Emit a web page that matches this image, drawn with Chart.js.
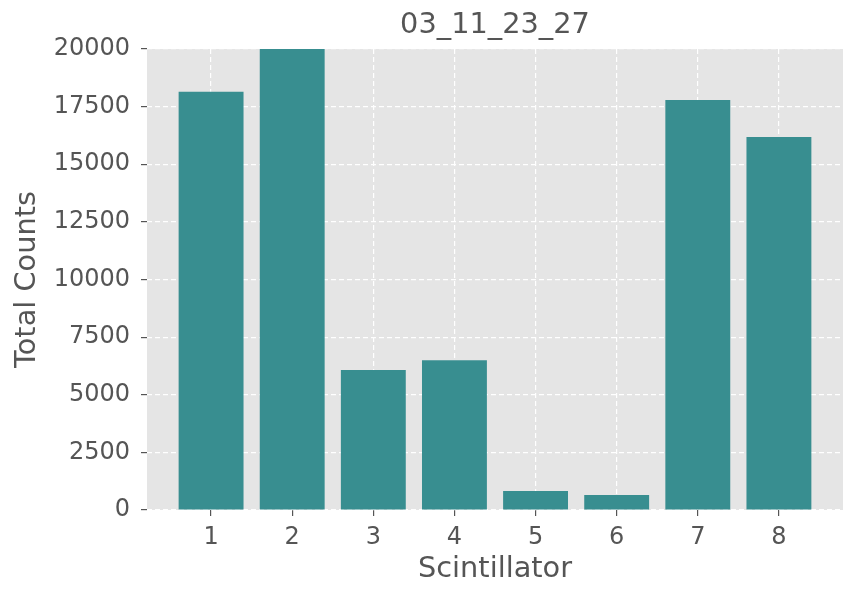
<!DOCTYPE html>
<html lang="en">
  <head>
    <meta charset="UTF-8" />
    <title>03_11_23_27</title>
    <script src="https://cdn.jsdelivr.net/npm/chart.js"></script>
    <style>
      html, body { margin: 0; padding: 0; background: #ffffff; }
      #wrap { width: 858px; height: 601px; }
    </style>
  </head>
  <body>
    <div id="wrap"><canvas id="grafico"></canvas></div>

    <script>
      // dados
      const chartTitle = "03_11_23_27";
      const scintillators = [1, 2, 3, 4, 5, 6, 7, 8];
      const totalCounts = [18150, 20000, 6070, 6500, 820, 650, 17790, 16180];
      const yTicks = [0, 2500, 5000, 7500, 10000, 12500, 15000, 17500, 20000];

      const textColor = "#555555";
      const fontFamily = "'DejaVu Sans', sans-serif";

      // fundo cinza da área do gráfico + título centrado na área
      const ggplotBackground = {
        id: "ggplotBackground",
        beforeDraw(chart) {
          const { ctx, chartArea } = chart;
          ctx.save();
          ctx.fillStyle = "#E5E5E5";
          ctx.fillRect(chartArea.left, chartArea.top, chartArea.right - chartArea.left, chartArea.bottom - chartArea.top);
          ctx.restore();
        },
        afterDraw(chart) {
          const { ctx, chartArea } = chart;
          ctx.save();
          ctx.fillStyle = textColor;
          ctx.font = "28.8px " + fontFamily;
          ctx.textAlign = "center";
          ctx.textBaseline = "middle";
          ctx.fillText(chartTitle, (chartArea.left + chartArea.right) / 2, 25.5);
          ctx.restore();
        },
      };

      const ctx = document.getElementById("grafico").getContext("2d");
      new Chart(ctx, {
        type: "bar",
        data: {
          datasets: [
            {
              label: "Total Counts",
              data: scintillators.map((s, i) => ({ x: s, y: totalCounts[i] })),
              backgroundColor: "#388E90",
              borderWidth: 0,
              barPercentage: 0.8,
              categoryPercentage: 1.0,
            },
          ],
        },
        options: {
          responsive: true,
          maintainAspectRatio: false,
          animation: false,
          layout: { padding: { top: 49, right: 15, bottom: 0, left: 0 } },
          plugins: {
            legend: { display: false },
            tooltip: { enabled: false },
          },
          scales: {
            x: {
              type: "linear",
              min: 0.21,
              max: 8.79,
              offset: false,
              afterBuildTicks: (axis) => {
                axis.ticks = scintillators.map((v) => ({ value: v }));
              },
              afterFit: (axis) => {
                axis.height = 91;
              },
              grid: {
                offset: false,
                color: "#FFFFFF",
                lineWidth: 1.2,
                tickColor: textColor,
                tickLength: 6,
                tickWidth: 1.2,
              },
              border: { display: false, dash: [5, 3] },
              ticks: {
                color: textColor,
                font: { family: fontFamily, size: 24 },
                padding: 7,
                maxRotation: 0,
                callback: (v) => String(v),
              },
              title: {
                display: true,
                text: "Scintillator",
                color: textColor,
                font: { family: fontFamily, size: 28.8 },
                padding: { top: 0, bottom: 14 },
              },
            },
            y: {
              min: 0,
              max: 20000,
              afterBuildTicks: (axis) => {
                axis.ticks = yTicks.map((v) => ({ value: v }));
              },
              afterFit: (axis) => {
                axis.width = 147;
              },
              grid: {
                color: "#FFFFFF",
                lineWidth: 1.2,
                tickColor: textColor,
                tickLength: 6,
                tickWidth: 1.2,
              },
              border: { display: false, dash: [5, 3] },
              ticks: {
                color: textColor,
                font: { family: fontFamily, size: 24 },
                padding: 11,
                callback: (v) => String(v),
              },
              title: {
                display: true,
                text: "Total Counts",
                color: textColor,
                font: { family: fontFamily, size: 28.8 },
                padding: { top: 10, bottom: 0 },
              },
            },
          },
        },
        plugins: [ggplotBackground],
      });
    </script>
  </body>
</html>
